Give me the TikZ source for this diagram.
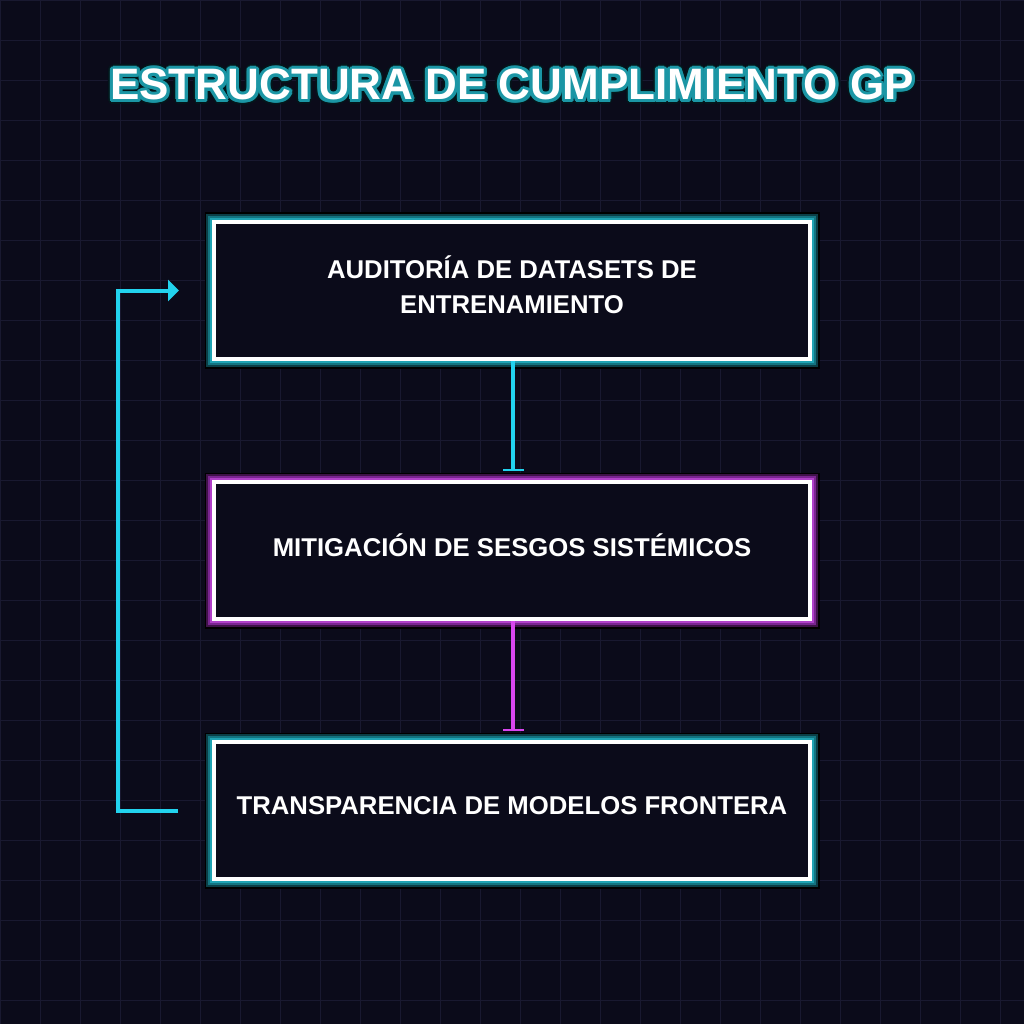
\documentclass[tikz,border=0pt]{standalone}
\usepackage{fontspec}
\setmainfont{Liberation Sans}
\usetikzlibrary{arrows.meta}
\definecolor{bg}{HTML}{0B0B1A}
\definecolor{gridc}{HTML}{191930}
\definecolor{cy}{HTML}{22D3EE}
\definecolor{mg}{HTML}{D946EF}
\definecolor{tealA}{HTML}{0B3F47}
\definecolor{tealB}{HTML}{137480}
\definecolor{tealC}{HTML}{1FA3B3}
\definecolor{magA}{HTML}{3F1249}
\definecolor{magB}{HTML}{7A2590}
\definecolor{magC}{HTML}{B040C8}
\definecolor{tdark}{HTML}{04161B}
\definecolor{tglow}{HTML}{1B96A5}
\begin{document}
\begin{tikzpicture}[x=1pt,y=-1pt,
  box/.style={rectangle, minimum width=596pt, minimum height=137pt, inner sep=0pt,
    fill=bg, draw=white, line width=4pt},
  glowT/.style={box,
    preaction={draw=black, line width=19pt},
    preaction={draw=tealA, line width=16pt},
    preaction={draw=tealB, line width=12pt},
    preaction={draw=tealC, line width=8pt}},
  glowM/.style={box,
    preaction={draw=black, line width=19pt},
    preaction={draw=magA, line width=16pt},
    preaction={draw=magB, line width=12pt},
    preaction={draw=magC, line width=8pt}},
  lbl/.style={text=white, font=\bfseries\fontsize{25.7}{30}\selectfont, inner sep=0pt, anchor=base},
  ttl/.style={font=\bfseries\fontsize{44}{50}\selectfont, inner sep=0pt, anchor=base},
  conn/.style={line width=4pt}
]
\useasboundingbox (0,0) rectangle (1024,1024);
\fill[bg] (0,0) rectangle (1024,1024);
\foreach \k in {0,40,...,1000} {
  \draw[gridc, line width=1.3pt] (\k+0.7,0) -- (\k+0.7,1024);
  \draw[gridc, line width=1.3pt] (0,\k+0.7) -- (1024,\k+0.7);
}
% title
\foreach \a [count=\i] in {0,22.5,...,337.5}
  \node[ttl, text=tdark] (tgd\i) at ([shift={(\a:5)}]512,100) {ESTRUCTURA DE CUMPLIMIENTO GP};
\foreach \a [count=\i] in {0,22.5,...,337.5}
  \node[ttl, text=tglow] (tgt\i) at ([shift={(\a:3)}]512,100) {ESTRUCTURA DE CUMPLIMIENTO GP};
\foreach \a [count=\i] in {0,45,...,315}
  \node[ttl, text=tglow] (tgs\i) at ([shift={(\a:1.6)}]512,100) {ESTRUCTURA DE CUMPLIMIENTO GP};
\node[ttl, text=white] (title) at (512,100) {ESTRUCTURA DE CUMPLIMIENTO GP};
% boxes
\node[glowT] (b1) at (512,290.5) {};
\node[glowM] (b2) at (512,550.5) {};
\node[glowT] (b3) at (512,810.5) {};
\node[lbl] (t1a) at (512,278.5) {AUDITORÍA DE DATASETS DE};
\node[lbl] (t1b) at (512,313) {ENTRENAMIENTO};
\node[lbl] (t2) at (512,556) {MITIGACIÓN DE SESGOS SISTÉMICOS};
\node[lbl] (t3) at (512,814.5) {TRANSPARENCIA DE MODELOS FRONTERA};
% connectors
\draw[conn, cy, -{Bar[width=21pt,line width=2pt]}] ([xshift=1pt]b1.south) -- ([xshift=1pt,yshift=9pt]b2.north);
\draw[conn, mg, -{Bar[width=21pt,line width=2pt]}] ([xshift=1pt]b2.south) -- ([xshift=1pt,yshift=9pt]b3.north);
\coordinate (fbs) at ([xshift=-34pt]b3.west);
\coordinate (fbe) at ([xshift=-33pt]b1.west);
\draw[conn, cy, -{Triangle[length=11pt,width=21pt]}] (fbs) -- ++(-60,0) |- (fbe);
\end{tikzpicture}
\end{document}
